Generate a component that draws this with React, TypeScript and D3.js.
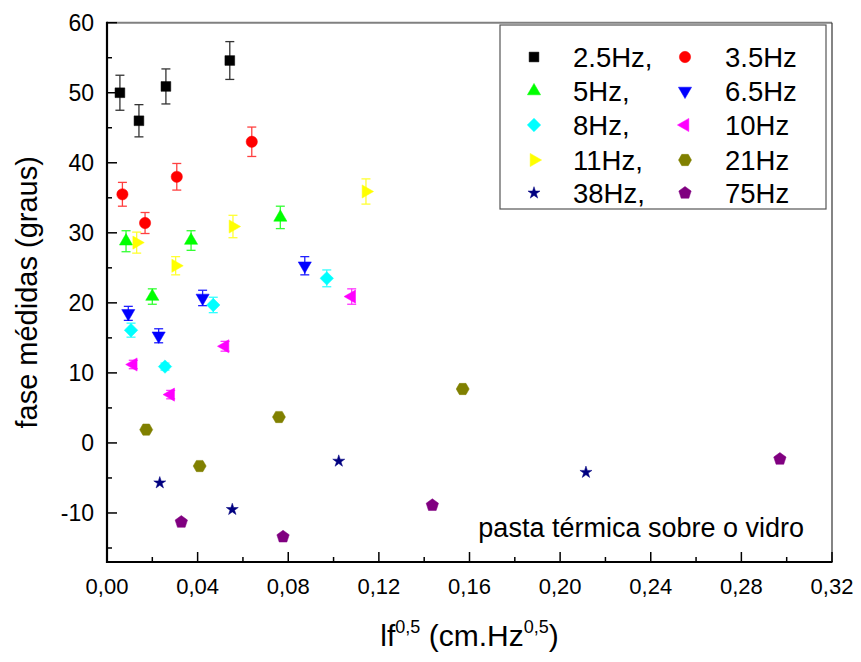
import React from "react";
import * as d3 from "d3";

// ---- data ----
const seriesNames = ["2.5Hz,", "3.5Hz", "5Hz,", "6.5Hz", "8Hz,", "10Hz", "11Hz,", "21Hz", "38Hz,", "75Hz"];

const x25 = [0.0057, 0.0141, 0.026, 0.0542];
const y25 = [50.0, 46.0, 50.9, 54.6];
const e25 = [2.5, 2.3, 2.5, 2.7];

const x35 = [0.0068, 0.0168, 0.0308, 0.0639];
const y35 = [35.5, 31.4, 38.0, 43.0];
const e35 = [1.7, 1.5, 1.9, 2.1];

const x5 = [0.0084, 0.020, 0.0371, 0.0765];
const y5 = [28.8, 20.9, 28.9, 32.2];
const e5 = [1.5, 1.1, 1.4, 1.6];

const x65 = [0.0094, 0.0228, 0.0422, 0.0873];
const y65 = [18.5, 15.3, 20.7, 25.3];
const e65 = [1.0, 1.0, 1.1, 1.3];

const x8 = [0.0106, 0.0256, 0.0469, 0.097];
const y8 = [16.1, 10.9, 19.7, 23.5];
const e8 = [1.0, 0.5, 1.1, 1.2];

const x10 = [0.0116, 0.0281, 0.0521, 0.108];
const y10 = [11.2, 6.9, 13.8, 20.9];
const e10 = [0.6, 0.6, 0.7, 1.1];

const x11 = [0.0131, 0.0303, 0.0556, 0.1143];
const y11 = [28.6, 25.3, 30.9, 35.9];
const e11 = [1.5, 1.3, 1.6, 1.8];

const x21 = [0.0173, 0.0409, 0.0759, 0.157];
const y21 = [1.9, -3.3, 3.7, 7.7];

const x38 = [0.0233, 0.0553, 0.1023, 0.2114];
const y38 = [-5.7, -9.5, -2.6, -4.2];

const x75 = [0.0328, 0.0777, 0.1436, 0.297];
const y75 = [-11.3, -13.4, -8.9, -2.3];

const xTicks = [0, 0.04, 0.08, 0.12, 0.16, 0.2, 0.24, 0.28, 0.32];
const yTicks = [-10, 0, 10, 20, 30, 40, 50, 60];

// ---- layout ----
const W = 861, H = 662;
const L = 107, R = 832, T = 22.7, B = 562;
const xScale = d3.scaleLinear().domain([0, 0.32]).range([L, R]);
const yScale = d3.scaleLinear().domain([-17, 60]).range([B, T]);

type Shape = "square" | "circle" | "up" | "down" | "diamond" | "left" | "right" | "hexagon" | "star" | "pentagon";

const colors = ["#000000", "#ff0000", "#00ff00", "#0000ff", "#00ffff", "#ff00ff", "#ffff00", "#808000", "#000080", "#800080"];
const errColors = ["#333333", "#ff4040", "#33ff33", "#2020ff", "#33ffff", "#ff33ff", "#ffff33", "#808000", "#000080", "#800080"];
const shapes: Shape[] = ["square", "circle", "up", "down", "diamond", "left", "right", "hexagon", "star", "pentagon"];

const series = [
  { xs: x25, ys: y25, es: e25 },
  { xs: x35, ys: y35, es: e35 },
  { xs: x5, ys: y5, es: e5 },
  { xs: x65, ys: y65, es: e65 },
  { xs: x8, ys: y8, es: e8 },
  { xs: x10, ys: y10, es: e10 },
  { xs: x11, ys: y11, es: e11 },
  { xs: x21, ys: y21, es: null as number[] | null },
  { xs: x38, ys: y38, es: null },
  { xs: x75, ys: y75, es: null },
];

function polygon(n: number, r: number, rot: number) {
  const pts: [number, number][] = d3.range(n).map((i) => {
    const a = rot + (i * 2 * Math.PI) / n;
    return [r * Math.cos(a), r * Math.sin(a)];
  });
  return (d3.line()(pts) as string) + "Z";
}

function markerPath(s: Shape): { d: string; rot: number } {
  switch (s) {
    case "square": return { d: d3.symbol(d3.symbolSquare, 95)() as string, rot: 0 };
    case "circle": return { d: d3.symbol(d3.symbolCircle, 100)() as string, rot: 0 };
    case "up": return { d: d3.symbol(d3.symbolTriangle, 75)() as string, rot: 0 };
    case "down": return { d: d3.symbol(d3.symbolTriangle, 75)() as string, rot: 180 };
    case "left": return { d: d3.symbol(d3.symbolTriangle, 75)() as string, rot: -90 };
    case "right": return { d: d3.symbol(d3.symbolTriangle, 75)() as string, rot: 90 };
    case "diamond": return { d: d3.symbol(d3.symbolSquare, 90)() as string, rot: 45 };
    case "hexagon": return { d: polygon(6, 6.5, 0), rot: 0 };
    case "pentagon": return { d: polygon(5, 6.5, -Math.PI / 2), rot: 0 };
    case "star": return { d: d3.symbol(d3.symbolStar, 45)() as string, rot: 0 };
  }
}

function Marker({ x, y, i }: { x: number; y: number; i: number }) {
  const m = markerPath(shapes[i]);
  return <path d={m.d} transform={`translate(${x},${y}) rotate(${m.rot})`} fill={colors[i]} stroke={colors[i]} strokeWidth={0.5} />;
}

export default function App() {
  const font = "'Liberation Sans', Arial, sans-serif";
  const xMinor = d3.range(0, 0.3201, 0.02);
  const yMinor = d3.range(-15, 60.01, 5);

  const legX1 = 534, legT1 = 573, legX2 = 685, legT2 = 725;
  const legRows = [57, 91, 125, 160, 193];

  return (
    <svg width={W} height={H} style={{ position: "absolute", left: 0, top: 0, background: "#fff" }} fontFamily={font}>
      <rect x={0} y={0} width={W} height={H} fill="#fff" />
      {/* frame top/right */}
      <line x1={L} x2={R} y1={T} y2={T} stroke="#808080" strokeWidth={2} />
      <line x1={R} x2={R} y1={T} y2={B} stroke="#333" strokeWidth={1.2} />

      {/* error bars */}
      {series.map((s, i) =>
        s.es
          ? s.xs.map((xv, j) => {
              const cx = xScale(xv);
              const y1 = yScale(s.ys[j] + s.es![j]);
              const y2 = yScale(s.ys[j] - s.es![j]);
              return (
                <g key={`e${i}-${j}`} stroke={errColors[i]} strokeWidth={1.3}>
                  <line x1={cx} x2={cx} y1={y1} y2={y2} />
                  <line x1={cx - 4.5} x2={cx + 4.5} y1={y1} y2={y1} />
                  <line x1={cx - 4.5} x2={cx + 4.5} y1={y2} y2={y2} />
                </g>
              );
            })
          : null
      )}

      {/* markers */}
      {series.map((s, i) => s.xs.map((xv, j) => <Marker key={`m${i}-${j}`} x={xScale(xv)} y={yScale(s.ys[j])} i={i} />))}

      {/* axes */}
      <line x1={L} x2={L} y1={T - 1} y2={B + 1} stroke="#000" strokeWidth={2.2} />
      <line x1={L - 1} x2={R + 0.5} y1={B} y2={B} stroke="#000" strokeWidth={2.2} />
      {yMinor.map((v) => {
        const major = Math.abs(v % 10) < 1e-6;
        return <line key={`yt${v}`} x1={L} x2={L + (major ? 10 : 5)} y1={yScale(v)} y2={yScale(v)} stroke="#000" strokeWidth={1.5} />;
      })}
      {xMinor.map((v, k) => {
        const major = k % 2 === 0;
        return <line key={`xt${k}`} x1={xScale(v)} x2={xScale(v)} y1={B} y2={B - (major ? 10 : 5)} stroke="#000" strokeWidth={1.5} />;
      })}
      {yTicks.map((v) => (
        <text key={`yl${v}`} x={L - 13} y={yScale(v) + 8} textAnchor="end" fontSize={23} fill="#000">{v}</text>
      ))}
      {xTicks.map((v) => (
        <text key={`xl${v}`} x={xScale(v)} y={594} textAnchor="middle" fontSize={22} fill="#000">{v.toFixed(2).replace(".", ",")}</text>
      ))}

      {/* axis titles */}
      <text transform={`translate(37,${(T + B) / 2}) rotate(-90)`} textAnchor="middle" fontSize={29} fill="#000">fase médidas (graus)</text>
      <text x={(L + R) / 2} y={646} textAnchor="middle" fontSize={30} fill="#000">
        lf<tspan fontSize={18} dy={-13}>0,5</tspan>
        <tspan dy={13}> (cm.Hz</tspan>
        <tspan fontSize={18} dy={-13}>0,5</tspan>
        <tspan dy={13}>)</tspan>
      </text>

      {/* annotation */}
      <text x={804} y={537} textAnchor="end" fontSize={27} fill="#000">pasta térmica sobre o vidro</text>

      {/* legend */}
      <rect x={500} y={25} width={326} height={184} fill="#fff" stroke="#555" strokeWidth={1.2} />
      {seriesNames.map((name, i) => {
        const row = Math.floor(i / 2);
        const col = i % 2;
        const cy = legRows[row];
        return (
          <g key={`lg${i}`}>
            <Marker x={col === 0 ? legX1 : legX2} y={cy} i={i} />
            <text x={col === 0 ? legT1 : legT2} y={cy + 10} fontSize={27.5} fill="#000">{name}</text>
          </g>
        );
      })}
    </svg>
  );
}
